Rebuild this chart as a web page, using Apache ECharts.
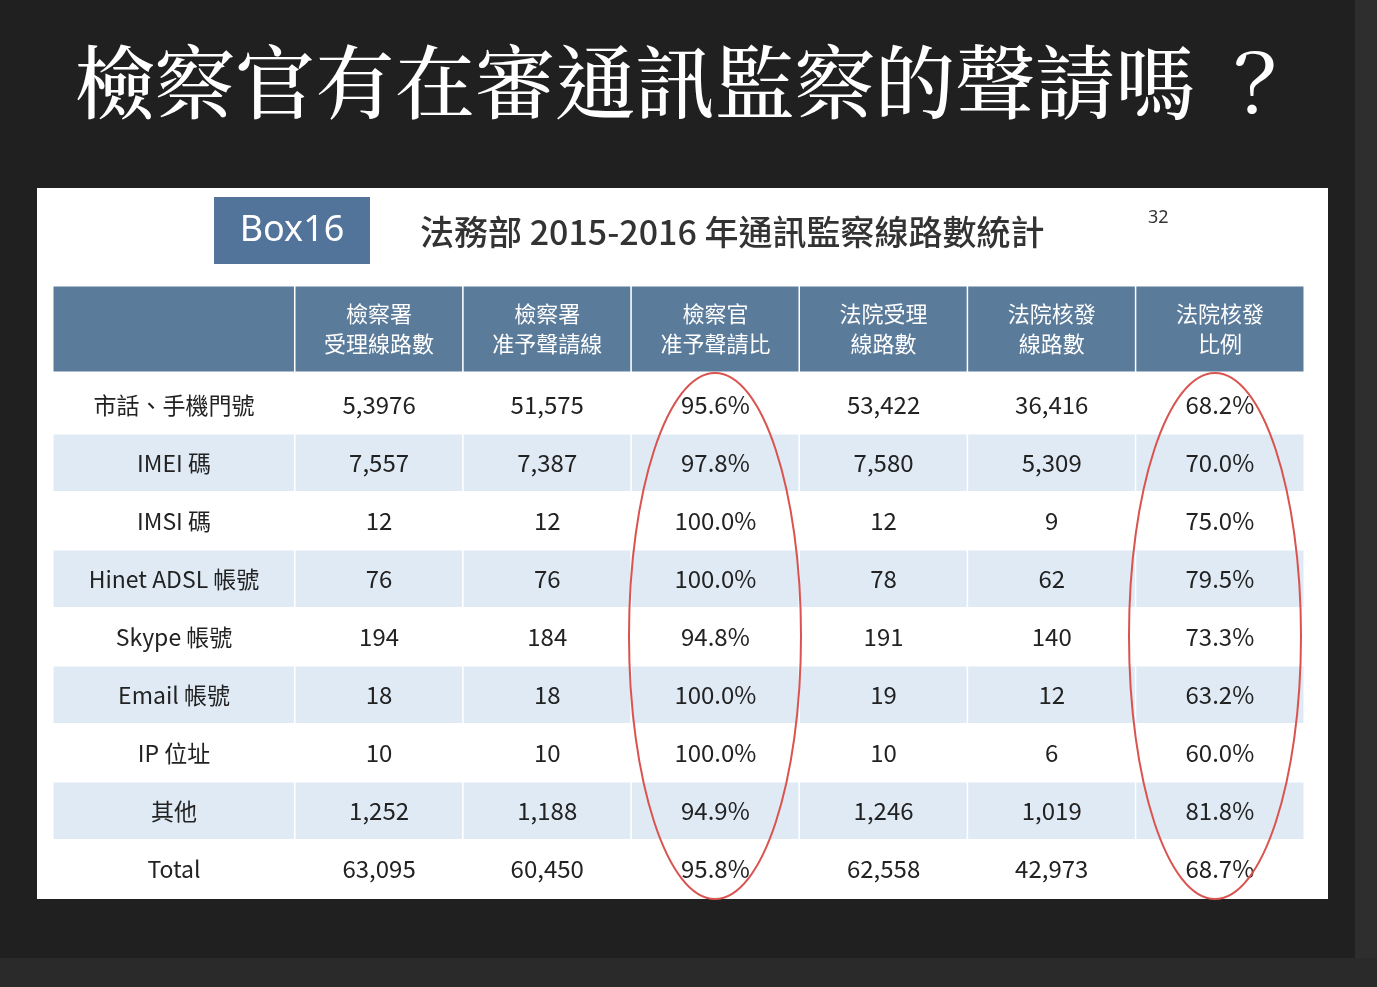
<!DOCTYPE html>
<html><head><meta charset="utf-8">
<script src="https://cdn.jsdelivr.net/npm/echarts@6/dist/echarts.min.js"></script>
<style>html,body{margin:0;padding:0;background:#202020;}#c{width:1377px;height:987px;}</style>
</head><body><div id="c"></div>
<script>
const pageTitle = '檢察官有在審通訊監察的聲請嗎 ？';
const tableTitle = '法務部 2015-2016 年通訊監察線路數統計';
const boxLabel = 'Box16';
const headers = ['檢察署\n受理線路數','檢察署\n准予聲請線','檢察官\n准予聲請比','法院受理\n線路數','法院核發\n線路數','法院核發\n比例'];
const rowNames = ['市話、手機門號','IMEI 碼','IMSI 碼','Hinet ADSL 帳號','Skype 帳號','Email 帳號','IP 位址','其他','Total'];
const prosecutorReceived = ['5,3976','7,557','12','76','194','18','10','1,252','63,095'];
const prosecutorApproved = ['51,575','7,387','12','76','184','18','10','1,188','60,450'];
const prosecutorRatio = ['95.6%','97.8%','100.0%','100.0%','94.8%','100.0%','100.0%','94.9%','95.8%'];
const courtReceived = ['53,422','7,580','12','78','191','19','10','1,246','62,558'];
const courtIssued = ['36,416','5,309','9','62','140','12','6','1,019','42,973'];
const courtRatio = ['68.2%','70.0%','75.0%','79.5%','73.3%','63.2%','60.0%','81.8%','68.7%'];
const cols = [prosecutorReceived, prosecutorApproved, prosecutorRatio, courtReceived, courtIssued, courtRatio];

const font = '"Noto Sans CJK TC","Noto Sans",sans-serif';
const rowBg = i => (i % 2 === 1 ? '#dfeaf5' : '#ffffff');
const HB = '#5b7b9b';

const labelData = rowNames.map((n, i) => ({value: [0, i, 0], name: n, itemStyle: {color: rowBg(i)}}));
const bodyData = [];
cols.forEach((col, c) => col.forEach((v, r) => bodyData.push({value: [c, r, 0], name: v, itemStyle: {color: rowBg(r)}})));
const headData = headers.map((h, c) => ({value: [c, 0, 0], name: h, itemStyle: {color: HB}}));

const grids = [
  {left: 53, width: 242, top: 286, height: 86},
  {left: 295, width: 1009, top: 286, height: 86},
  {left: 53, width: 242, top: 376, height: 522},
  {left: 295, width: 1009, top: 376, height: 522}
];
const xCats = [['a'], headers.map((_, i) => i), ['a'], headers.map((_, i) => i)];
const yCats = [['h'], ['h'], rowNames.map((_, i) => i), rowNames.map((_, i) => i)];
const hid = {show: false};
const xAxis = grids.map((g, i) => ({type: 'category', gridIndex: i, data: xCats[i], axisLine: hid, axisTick: hid, axisLabel: hid, splitLine: hid}));
const yAxis = grids.map((g, i) => ({type: 'category', gridIndex: i, inverse: true, data: yCats[i], axisLine: hid, axisTick: hid, axisLabel: hid, splitLine: hid}));
const cellLabel = (sz, col, lh) => ({show: true, formatter: p => p.name, fontFamily: font, fontSize: sz, color: col, lineHeight: lh});
const mk = (idx, data, lab) => ({type: 'heatmap', xAxisIndex: idx, yAxisIndex: idx, data, label: lab,
  itemStyle: {borderColor: '#ffffff', borderWidth: 1.5}, emphasis: {disabled: true}, silent: true});

const chart = echarts.init(document.getElementById('c'));
chart.setOption({
  backgroundColor: '#202020',
  animation: false,
  grid: grids,
  xAxis, yAxis,
  series: [
    mk(0, [{value: [0, 0, 0], name: '', itemStyle: {color: HB}}], cellLabel(22, '#fff', 30)),
    mk(1, headData, cellLabel(22, '#ffffff', 30)),
    mk(2, labelData, cellLabel(23, '#222', 28)),
    mk(3, bodyData, cellLabel(24, '#222', 28))
  ],
  graphic: [
    {type: 'rect', z: -10, shape: {x: 1355, y: 0, width: 22, height: 987}, style: {fill: '#2e2e2e'}},
    {type: 'rect', z: -10, shape: {x: 0, y: 958, width: 1377, height: 29}, style: {fill: '#2a2a2a'}},
    {type: 'text', x: 75, y: 82, style: {text: pageTitle, fill: '#ffffff', font: '500 80px "Noto Serif CJK TC","Noto Sans CJK TC",serif', verticalAlign: 'middle'}},
    {type: 'rect', z: -5, shape: {x: 37, y: 188, width: 1291, height: 711}, style: {fill: '#ffffff'}},
    {type: 'rect', shape: {x: 214, y: 197, width: 156, height: 67}, style: {fill: '#52749a'}},
    {type: 'text', x: 292, y: 231, style: {text: boxLabel, fill: '#fff', font: '36px "Noto Sans",sans-serif', align: 'center', verticalAlign: 'middle'}},
    {type: 'text', x: 420, y: 232, style: {text: tableTitle, fill: '#333', font: '500 34px ' + font, verticalAlign: 'middle'}},
    {type: 'text', x: 1148, y: 218, style: {text: '32', fill: '#333', font: '18px "Noto Sans",sans-serif', verticalAlign: 'middle'}},
    {type: 'ellipse', z: 100, shape: {cx: 715, cy: 636, rx: 86, ry: 263}, style: {fill: 'none', stroke: '#d9534f', lineWidth: 2}},
    {type: 'ellipse', z: 100, shape: {cx: 1215, cy: 636, rx: 86, ry: 263}, style: {fill: 'none', stroke: '#d9534f', lineWidth: 2}}
  ]
});
</script></body></html>
